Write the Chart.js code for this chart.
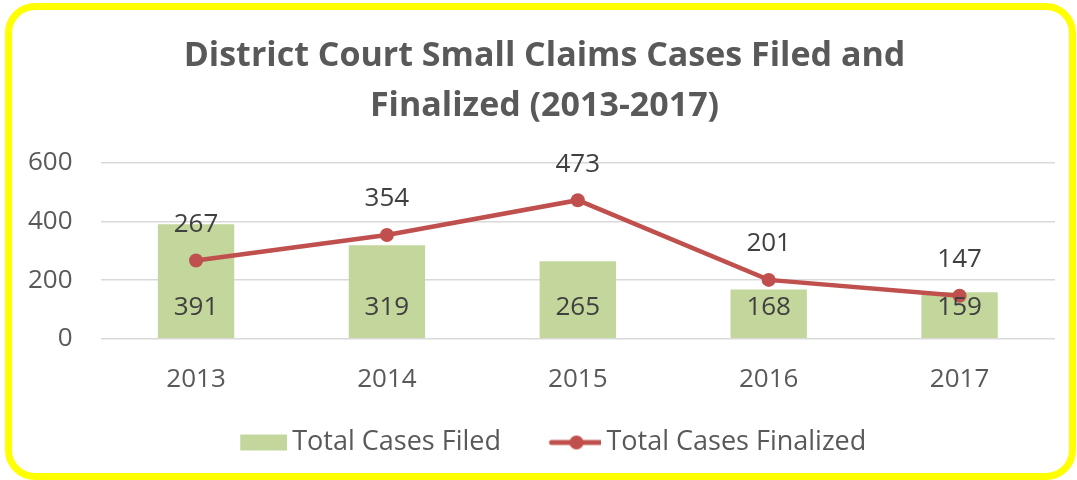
<!DOCTYPE html>
<html>
<head>
<meta charset="utf-8">
<script src="https://cdn.jsdelivr.net/npm/chart.js@4/dist/chart.umd.min.js"></script>
<style>
  html, body { margin: 0; padding: 0; background: #fff; }
  #wrap { position: relative; width: 1077px; height: 480px; }
  #frame {
    position: absolute; left: 5px; top: 3px; width: 1071px; height: 477px;
    box-sizing: border-box; border: 7px solid #ffff00; border-radius: 30px;
    pointer-events: none;
  }
</style>
</head>
<body>
<div id="wrap">
  <canvas id="myChart" width="1077" height="480"></canvas>
  <div id="frame"></div>
</div>
<script>
const years = ['2013', '2014', '2015', '2016', '2017'];
const casesFiled = [391, 319, 265, 168, 159];
const casesFinalized = [267, 354, 473, 201, 147];
const yTicks = [0, 200, 400, 600];

const fontFamily = '"Open Sans", sans-serif';
const textGray = '#595959';
const labelGray = '#404040';
const barGreen = '#c3d69b';
const lineRed = '#c0504d';

// legend icons: drawn wider than the legend box so the gaps match the original
function makeIcon(kind) {
  const c = document.createElement('canvas');
  c.width = 97;
  c.height = 18;
  const g = c.getContext('2d');
  if (kind === 'bar') {
    g.fillStyle = barGreen;
    g.fillRect(50, 1, 51, 16);
  } else {
    g.strokeStyle = lineRed;
    g.lineWidth = 5;
    g.lineCap = 'round';
    g.beginPath();
    g.moveTo(47, 9);
    g.lineTo(96, 9);
    g.stroke();
    g.fillStyle = lineRed;
    g.beginPath();
    g.arc(72, 9, 7, 0, Math.PI * 2);
    g.fill();
  }
  return c;
}
const icons = [makeIcon('bar'), makeIcon('line')];

const valueLabels = {
  id: 'valueLabels',
  afterDatasetsDraw(chart) {
    const ctx = chart.ctx;
    ctx.save();
    ctx.font = '26px ' + fontFamily;
    ctx.fillStyle = labelGray;
    ctx.textAlign = 'center';
    ctx.textBaseline = 'middle';
    chart.data.datasets.forEach((ds, i) => {
      const meta = chart.getDatasetMeta(i);
      meta.data.forEach((el, j) => {
        const v = ds.data[j];
        if (ds.type === 'bar') {
          ctx.fillText(String(v), el.x, el.base - 30);
        } else {
          ctx.fillText(String(v), el.x, el.y - 36);
        }
      });
    });
    ctx.restore();
  },
};

// the original title and legend sit a little right of the chart's centre
const boxNudge = {
  id: 'boxNudge',
  afterLayout(chart) {
    if (chart.titleBlock) {
      chart.titleBlock.left += 17;
      chart.titleBlock.right += 17;
    }
    if (chart.legend) {
      chart.legend.left += 5;
      chart.legend.right += 5;
    }
  },
};

new Chart(document.getElementById('myChart'), {
  data: {
    labels: years,
    datasets: [
      {
        type: 'bar',
        label: 'Total Cases Filed',
        data: casesFiled,
        backgroundColor: barGreen,
        borderWidth: 0,
        categoryPercentage: 0.8,
        barPercentage: 0.5,
        order: 2,
      },
      {
        type: 'line',
        label: 'Total Cases Finalized',
        data: casesFinalized,
        borderColor: lineRed,
        backgroundColor: lineRed,
        borderWidth: 4.5,
        pointRadius: 7,
        pointBackgroundColor: lineRed,
        pointBorderWidth: 0,
        tension: 0,
        order: 1,
      },
    ],
  },
  options: {
    responsive: false,
    animation: false,
    layout: { padding: { left: 0, right: 22, top: 31, bottom: 14 } },
    plugins: {
      title: {
        display: true,
        text: ['District Court Small Claims Cases Filed and', 'Finalized (2013-2017)'],
        color: textGray,
        font: { family: fontFamily, size: 34, weight: 'bold', lineHeight: 1.47 },
        padding: { top: 0, bottom: 32 },
      },
      legend: {
        position: 'bottom',
        labels: {
          color: textGray,
          font: { family: fontFamily, size: 27 },
          usePointStyle: true,
          pointStyleWidth: 80,
          padding: 12,
          sort: (a, b) => a.datasetIndex - b.datasetIndex,
          generateLabels(chart) {
            const items = Chart.defaults.plugins.legend.labels.generateLabels(chart);
            items.forEach((it) => { it.pointStyle = icons[it.datasetIndex]; });
            return items;
          },
        },
      },
      tooltip: { enabled: false },
    },
    scales: {
      x: {
        grid: { display: false },
        border: { display: false },
        ticks: { color: textGray, font: { family: fontFamily, size: 26 }, padding: 17 },
        afterFit(axis) { axis.height += 5; },
      },
      y: {
        min: 0,
        max: 600,
        afterBuildTicks(axis) { axis.ticks = yTicks.map((v) => ({ value: v })); },
        grid: { color: '#d9d9d9', lineWidth: 1.5, drawTicks: false },
        border: { display: false },
        ticks: { color: textGray, font: { family: fontFamily, size: 26 }, padding: 28 },
      },
    },
  },
  plugins: [valueLabels, boxNudge],
});
</script>
</body>
</html>
